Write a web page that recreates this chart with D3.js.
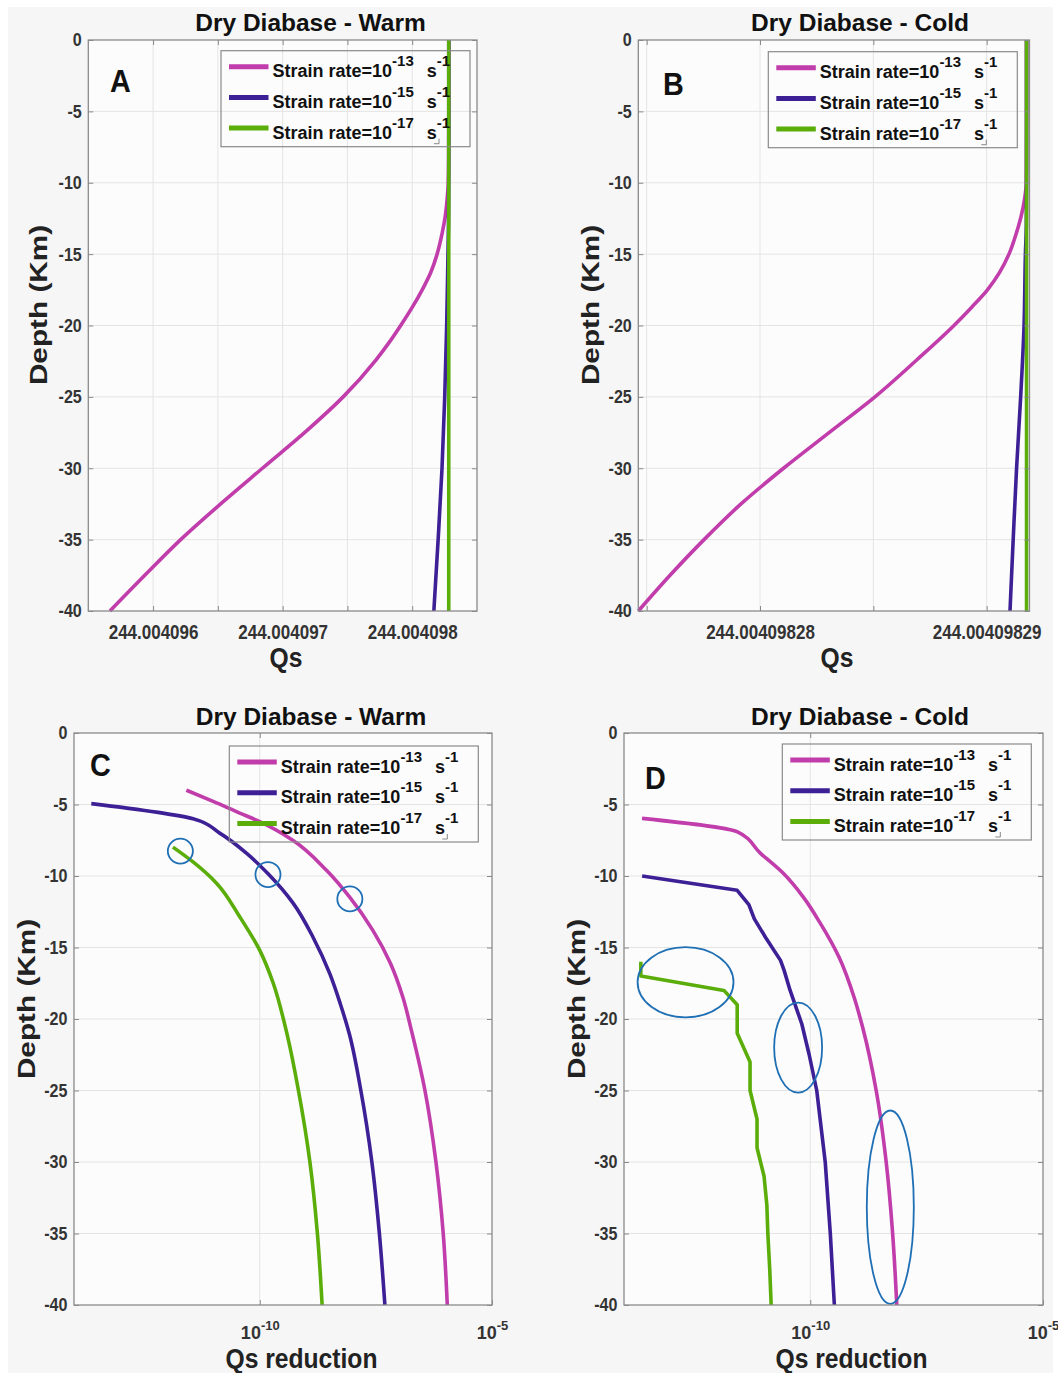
<!DOCTYPE html>
<html>
<head>
<meta charset="utf-8">
<script src="https://cdn.jsdelivr.net/npm/d3@7"></script>
<style>
  body { margin: 0; background: #ffffff; }
  svg { display: block; }
</style>
</head>
<body>
<svg id="fig" width="1058" height="1373"></svg>
<script>
// ---------------- DATA ----------------
const titles = ["Dry Diabase - Warm", "Dry Diabase - Cold", "Dry Diabase - Warm", "Dry Diabase - Cold"];
const panelLetters = ["A", "B", "C", "D"];
const xAxisTitles = ["Qs", "Qs", "Qs reduction", "Qs reduction"];
const yAxisTitle = "Depth (Km)";
const strainExponents = ["-13", "-15", "-17"];
const seriesColors = ["#c13dab", "#3e2096", "#5bad0a"];

const depthTicks = [0, -5, -10, -15, -20, -25, -30, -35, -40];
const depthGrid = [-5, -10, -15, -20, -25, -30, -35];

const warmQsDomain = [244.0040955, 244.0040985];
const warmQsGrid = [244.004096, 244.0040965, 244.004097, 244.0040975, 244.004098];
const warmQsTickLabels = [244.004096, 244.004097, 244.004098];

const coldQsDomain = [244.00409827463, 244.00409829189];
const coldQsGrid = [244.004098275, 244.00409828, 244.004098285, 244.00409829];
const coldQsTickLabels = [244.00409828, 244.00409829];

const reductionDomain = [1e-14, 1e-5];
const reductionGrid = [1e-10];
const reductionTickLabels = [1e-10, 1e-5];

// [depth (km), Qs]
const warmQs13 = [[0,244.004098282],[-5,244.004098282],[-8,244.004098281],[-10,244.004098278],[-11.2,244.004098269],
  [-12.4,244.004098254],[-13.5,244.004098232],[-15,244.004098192],[-16.3,244.004098142],[-17.5,244.004098077],
  [-18.7,244.004098002],[-20,244.004097911],[-21.2,244.004097821],[-22.4,244.004097721],[-25,244.004097467],
  [-27.4,244.004097182],[-30,244.004096844],[-32.5,244.004096521],[-35,244.004096213],[-37.5,244.004095936],
  [-40,244.004095667]];
const warmQs15 = [[0,244.004098282],[-10,244.004098282],[-13,244.004098280],[-15,244.004098276],[-20,244.004098266],
  [-25,244.004098251],[-30,244.004098230],[-35,244.004098200],[-40,244.004098167]];
const warmQs17 = [[0,244.004098282],[-20,244.004098282],[-40,244.004098282]];

const coldQs13 = [[0,244.00409829176],[-5,244.00409829176],[-8,244.004098291755],[-10,244.004098291747],
  [-11.2,244.004098291667],[-12.4,244.004098291513],[-13.5,244.004098291315],[-15,244.004098290984],
  [-16.3,244.004098290565],[-17.5,244.004098290035],[-18.7,244.004098289352],[-20,244.004098288558],
  [-22.4,244.004098286925],[-25,244.004098285073],[-27.4,244.004098283132],[-30,244.004098281037],
  [-32.5,244.004098279162],[-35,244.004098277530],[-37.5,244.004098276030],[-40,244.004098274632]];
const coldQs15 = [[0,244.00409829176],[-10,244.00409829176],[-13,244.00409829175],[-15,244.00409829171],
  [-20,244.00409829165],[-25,244.00409829150],[-30,244.00409829132],[-35,244.00409829117],[-40,244.00409829103]];
const coldQs17 = [[0,244.00409829176],[-20,244.00409829176],[-40,244.00409829176]];

// [depth (km), Qs reduction]
const warmRed13 = [[-4.0,2.63e-12],[-4.8,1.02e-11],[-5.6,3.71e-11],[-6.2,1.0e-10],[-7.5,5.14e-10],[-9.6,2.73e-9],
  [-11.5,8.71e-9],[-13.8,2.72e-8],[-16.1,6.49e-8],[-18.5,1.21e-7],[-20.8,1.84e-7],[-25,3.6e-7],[-30,6.21e-7],
  [-35,8.91e-7],[-40,1.09e-6]];
const warmRed15 = [[-4.94,2.36e-14],[-6.0,3.66e-12],[-7.0,1.37e-11],[-8.4,5.16e-11],[-9.85,1.51e-10],[-11.9,5.22e-10],
  [-14.3,1.41e-9],[-16.85,3.23e-9],[-18.95,5.43e-9],[-21.05,8.49e-9],[-25,1.50e-8],[-30,2.59e-8],[-35,3.76e-8],
  [-40,4.94e-8]];
const warmRed17 = [[-7.98,1.35e-12],[-9.0,3.6e-12],[-10.5,1.17e-11],[-12.85,3.7e-11],[-15.2,1.0e-10],[-17.5,1.95e-10],
  [-20.8,3.7e-10],[-25,6.8e-10],[-30,1.2e-9],[-35,1.74e-9],[-40,2.2e-9]];

const coldRed13 = [[-5.97,2.44e-14],[-6.9,2.67e-12],[-8.4,8.45e-12],[-9.83,2.67e-11],[-11.5,7.18e-11],[-13.3,1.64e-10],
  [-15.7,4.19e-10],[-18.5,8.79e-10],[-20.6,1.34e-9],[-25,2.61e-9],[-30,4.28e-9],[-35,5.89e-9],[-40,7.24e-9]];
const coldRed15 = [[-10.0,2.45e-14],[-11.0,2.7e-12],[-12.0,4.8e-12],[-13.0,6.3e-12],[-14.3,1.1e-11],[-15.9,2.3e-11],
  [-16.6,2.75e-11],[-18.0,3.7e-11],[-20.35,6.6e-11],[-22.5,9.5e-11],[-25,1.38e-10],[-30,2.1e-10],[-35,2.7e-10],
  [-40,3.3e-10]];
const coldRed17 = [[-16.0,2.3e-14],[-17.0,2.3e-14],[-18.0,1.4e-12],[-19.0,2.7e-12],[-21.0,2.7e-12],[-23.0,5.1e-12],
  [-25.0,5.1e-12],[-27.0,7.2e-12],[-29.0,7.2e-12],[-31.0,1.02e-11],[-33.0,1.17e-11],[-35.0,1.23e-11],
  [-37.5,1.35e-11],[-40,1.45e-11]];

// highlight marks: centre (Qs reduction, depth), half-width in decades, half-height in km
const warmCircles = [
  {q: 1.95e-12, depth: -8.26, rDec: 0.27, rKm: 0.875},
  {q: 1.5e-10, depth: -9.9, rDec: 0.27, rKm: 0.875},
  {q: 8.7e-9, depth: -11.6, rDec: 0.27, rKm: 0.875}];
const coldEllipses = [
  {q: 2.1e-13, depth: -17.43, rDec: 1.03, rKm: 2.45},
  {q: 5.5e-11, depth: -22.0, rDec: 0.515, rKm: 3.15},
  {q: 5.25e-9, depth: -33.16, rDec: 0.505, rKm: 6.76}];

// ---------------- LAYOUT ----------------
const mono = d3.curveMonotoneY, lin = d3.curveLinear;
const panels = [
  {box:{l:88.3,r:477,t:40,b:611}, log:false, domain:warmQsDomain, grid:warmQsGrid, labels:warmQsTickLabels, dec:6,
   series:[warmQs13,warmQs15,warmQs17], curves:[mono,mono,lin], marks:[],
   legend:[221,50.7], letterPos:[110,92], titlePos:[310.5,31], ylab:[47,305], xlab:[286,667]},
  {box:{l:638.3,r:1029.5,t:40,b:611}, log:false, domain:coldQsDomain, grid:coldQsGrid, labels:coldQsTickLabels, dec:8,
   series:[coldQs13,coldQs15,coldQs17], curves:[mono,mono,lin], marks:[],
   legend:[768.3,51.7], letterPos:[663,95], titlePos:[860,31], ylab:[599,305], xlab:[837,667]},
  {box:{l:74,r:492,t:733,b:1305}, log:true, domain:reductionDomain, grid:reductionGrid, labels:reductionTickLabels,
   series:[warmRed13,warmRed15,warmRed17], curves:[mono,mono,mono], marks:warmCircles,
   legend:[229.3,746], letterPos:[90,776], titlePos:[311,725], ylab:[35,999], xlab:[301.5,1368]},
  {box:{l:624,r:1043,t:733,b:1305}, log:true, domain:reductionDomain, grid:reductionGrid, labels:reductionTickLabels,
   series:[coldRed13,coldRed15,coldRed17], curves:[mono,lin,lin], marks:coldEllipses,
   legend:[782.3,744], letterPos:[645,789], titlePos:[860,725], ylab:[585,999], xlab:[851.5,1368]}
];

const FONT = '"Liberation Sans", Arial, Helvetica, sans-serif';
const AXIS_COLOR = "#8a8a8a";
const svg = d3.select("#fig").attr("font-family", FONT).attr("font-weight", "bold");

svg.append("rect").attr("width", 1058).attr("height", 1373).attr("fill", "#ffffff");
svg.append("rect").attr("x", 8).attr("y", 7).attr("width", 1045).attr("height", 1366).attr("fill", "#f6f6f6");

function label(parent, txt, x, y, o) {
  const tr = `translate(${x},${y}) scale(${o.sx || 1},${o.sy || 1})` + (o.rotate ? ` rotate(${o.rotate})` : "");
  return parent.append("text").attr("transform", tr)
    .attr("text-anchor", o.anchor || "middle")
    .attr("font-size", o.size).attr("fill", o.fill || "#111").text(txt);
}

function styleAxis(ax, size, sx, fill) {
  ax.select(".domain").remove();
  ax.selectAll(".tick line").attr("stroke", AXIS_COLOR).attr("stroke-width", 1);
  ax.selectAll("text").attr("font-size", size).attr("font-family", FONT).attr("font-weight", "bold")
    .attr("fill", fill || "#333").attr("transform", `scale(${sx},1)`);
}

panels.forEach((p, pi) => {
  const {l, r, t, b} = p.box;
  const x = (p.log ? d3.scaleLog() : d3.scaleLinear()).domain(p.domain).range([l, r]);
  const y = d3.scaleLinear().domain([0, -40]).range([t, b]);
  const g = svg.append("g");

  g.append("rect").attr("x", l).attr("y", t).attr("width", r - l).attr("height", b - t).attr("fill", "#fcfcfc");

  // grid
  g.selectAll(".vgrid").data(p.grid).join("line")
    .attr("x1", d => x(d)).attr("x2", d => x(d)).attr("y1", t).attr("y2", b)
    .attr("stroke", "#e4e4e4").attr("stroke-width", 1);
  g.selectAll(".hgrid").data(depthGrid).join("line")
    .attr("x1", l).attr("x2", r).attr("y1", d => y(d)).attr("y2", d => y(d))
    .attr("stroke", "#e4e4e4").attr("stroke-width", 1);

  // series
  p.series.forEach((s, i) => {
    const line = d3.line().x(d => x(d[1])).y(d => y(d[0])).curve(p.curves[i]);
    g.append("path").datum(s).attr("d", line).attr("fill", "none")
      .attr("stroke", seriesColors[i]).attr("stroke-width", 3.6)
      .attr("stroke-linejoin", "round").attr("stroke-linecap", "butt");
  });

  // highlight ellipses
  g.selectAll(".mark").data(p.marks).join("ellipse")
    .attr("cx", d => x(d.q)).attr("cy", d => y(d.depth))
    .attr("rx", d => x(d.q * Math.pow(10, d.rDec)) - x(d.q))
    .attr("ry", d => y(d.depth - d.rKm) - y(d.depth))
    .attr("fill", "none").attr("stroke", "#1f6fb5").attr("stroke-width", 1.8);

  // frame
  g.append("rect").attr("x", l).attr("y", t).attr("width", r - l).attr("height", b - t)
    .attr("fill", "none").attr("stroke", AXIS_COLOR).attr("stroke-width", 1.3);

  // axes
  const yl = g.append("g").attr("transform", `translate(${l},0)`)
    .call(d3.axisLeft(y).tickValues(depthTicks).tickSizeInner(-5).tickSizeOuter(0).tickPadding(7.5)
      .tickFormat(d => String(d)));
  styleAxis(yl, 18.5, 0.87);
  const yr = g.append("g").attr("transform", `translate(${r},0)`)
    .call(d3.axisRight(y).tickValues(depthTicks).tickSizeInner(-5).tickSizeOuter(0).tickFormat(() => ""));
  styleAxis(yr, 10, 1);
  const xt = g.append("g").attr("transform", `translate(0,${t})`)
    .call(d3.axisTop(x).tickValues(p.grid).tickSizeInner(-5).tickSizeOuter(0).tickFormat(() => ""));
  styleAxis(xt, 10, 1);

  if (!p.log) {
    const isLab = v => p.labels.some(w => Math.abs(w - v) < 1e-12);
    const xb = g.append("g").attr("transform", `translate(0,${b})`)
      .call(d3.axisBottom(x).tickValues(p.grid).tickSizeInner(-5).tickSizeOuter(0).tickPadding(13)
        .tickFormat(d => isLab(d) ? d.toFixed(p.dec) : ""));
    styleAxis(xb, 21, 0.81);
  } else {
    const xb = g.append("g").attr("transform", `translate(0,${b})`)
      .call(d3.axisBottom(x).tickValues(p.labels).tickSizeInner(-5).tickSizeOuter(0).tickPadding(21)
        .tickFormat(() => ""));
    styleAxis(xb, 18, 1);
    xb.selectAll(".tick text").each(function(d) {
      const tx = d3.select(this);
      tx.append("tspan").text("10");
      tx.append("tspan").attr("dy", -9).attr("font-size", 13).text(String(Math.round(Math.log10(d))));
    });
  }

  // legend
  const lg = g.append("g").attr("transform", `translate(${p.legend[0]},${p.legend[1]})`);
  lg.append("rect").attr("width", 249).attr("height", 96).attr("fill", "none")
    .attr("stroke", AXIS_COLOR).attr("stroke-width", 1.2);
  strainExponents.forEach((e, i) => {
    const yy = 16 + i * 30.7;
    lg.append("line").attr("x1", 8).attr("x2", 47.5).attr("y1", yy).attr("y2", yy)
      .attr("stroke", seriesColors[i]).attr("stroke-width", 5);
    const tx = lg.append("text").attr("x", 51.5).attr("y", yy + 10.5).attr("font-size", 18).attr("fill", "#111");
    tx.append("tspan").text("Strain rate=10");
    tx.append("tspan").attr("dy", -11).attr("font-size", 15).text(e);
    tx.append("tspan").attr("dy", 11).attr("dx", 8).attr("font-size", 18).text("\u00a0s");
    tx.append("tspan").attr("dy", -11).attr("font-size", 15).text("-1");
  });
  lg.append("path").attr("d", "M213,93 H218 V88").attr("fill", "none").attr("stroke", "#888").attr("stroke-width", 1);

  // texts
  label(g, panelLetters[pi], p.letterPos[0], p.letterPos[1], {size: 32, sx: 0.9, anchor: "start", fill: "#111"});
  label(g, titles[pi], p.titlePos[0], p.titlePos[1], {size: 24.5, fill: "#111"});
  label(g, xAxisTitles[pi], p.xlab[0], p.xlab[1], {size: 28, sx: 0.88, fill: "#222"});
  label(g, yAxisTitle, p.ylab[0], p.ylab[1], {size: 24, sy: 1.24, rotate: -90, fill: "#222"});
});
</script>
</body>
</html>
